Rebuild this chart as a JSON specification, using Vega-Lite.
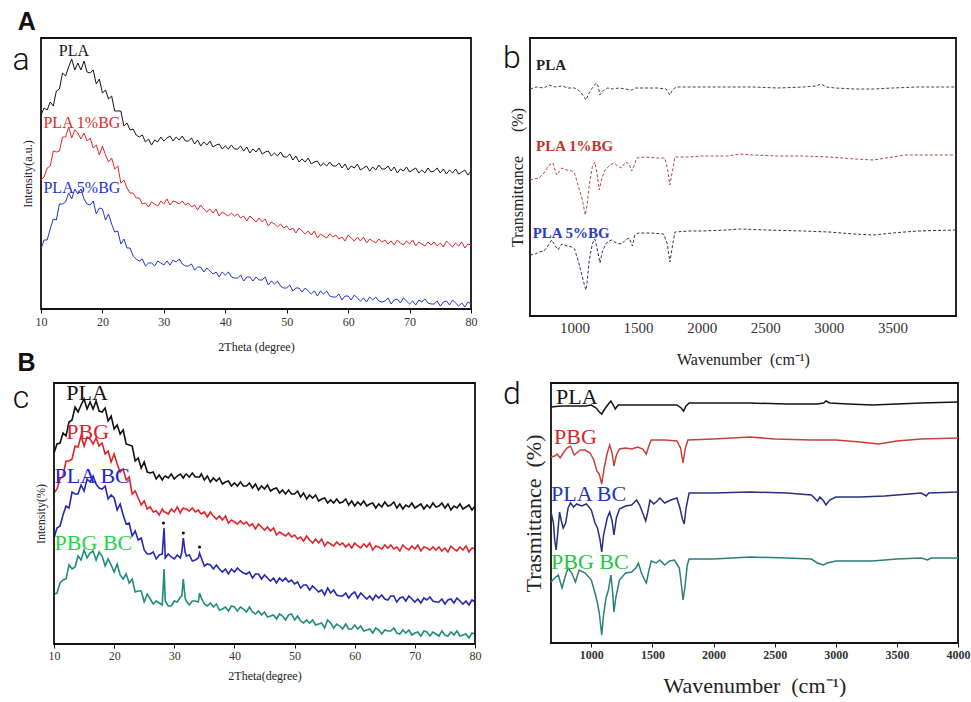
{
"$schema": "https://vega.github.io/schema/vega-lite/v6.json",
"background": "white",
"padding": {"left": 11, "top": 9, "right": 0, "bottom": 0},
"spacing": 0,
"resolve": {"scale": {"color": "independent"}},
"vconcat": [
{"hconcat": [
{"width": 430, "height": 271,
 "encoding": {
  "x": {"field": "x", "type": "quantitative", "scale": {"domain": [10, 80], "nice": false, "zero": false}, "axis": {"values": [10,20,30,40,50,60,70,80], "labelFontSize": 12, "tickSize": 4, "labelPadding": 3, "labelFlush": false, "labelOverlap": false, "title": "2Theta (degree)", "titleFontSize": 12, "titlePadding": 14}},
  "y": {"field": "v", "type": "quantitative", "scale": {"domain": [0, 271], "nice": false, "zero": false}, "axis": {"title": "Intensity(a.u.)", "labels": false, "ticks": false, "titleFontSize": 12, "titlePadding": 7}}
 },
 "layer": [
  {"data": {"values": [
{"x":10,"P":194,"R":129,"B":60},{"x":10.5,"P":201,"R":132,"B":69},{"x":11,"P":199,"R":141,"B":69},{"x":11.5,"P":207,"R":143,"B":80},{"x":12,"P":203,"R":158,"B":90},{"x":12.5,"P":218,"R":157,"B":89},{"x":13,"P":220,"R":158,"B":105},{"x":13.5,"P":236,"R":172,"B":105},{"x":14,"P":233,"R":172,"B":107},{"x":14.5,"P":242,"R":182,"B":116},{"x":15,"P":250,"R":171,"B":110},{"x":15.5,"P":239,"R":179,"B":120},{"x":16,"P":246,"R":176,"B":115},{"x":16.5,"P":239,"R":170,"B":120},{"x":17,"P":248,"R":176,"B":110},{"x":17.5,"P":237,"R":168,"B":105},{"x":18,"P":236,"R":171,"B":104},{"x":18.5,"P":239,"R":161,"B":108},{"x":19,"P":225,"R":164,"B":95},{"x":19.5,"P":230,"R":154,"B":101},{"x":20,"P":216,"R":163,"B":100},{"x":20.5,"P":219,"R":154,"B":89},{"x":21,"P":210,"R":147,"B":95},{"x":21.5,"P":213,"R":151,"B":85},{"x":22,"P":198,"R":140,"B":77},{"x":22.5,"P":198,"R":143,"B":78},{"x":23,"P":198,"R":126,"B":65},{"x":23.5,"P":183,"R":129,"B":70},{"x":24,"P":186,"R":121,"B":61},{"x":24.5,"P":179,"R":116,"B":61},{"x":25,"P":180,"R":116,"B":53},{"x":25.5,"P":174,"R":111,"B":50},{"x":26,"P":172,"R":111,"B":48},{"x":26.5,"P":174,"R":105,"B":50},{"x":27,"P":167,"R":106,"B":43},{"x":27.5,"P":170,"R":102,"B":46},{"x":28,"P":164,"R":107,"B":46},{"x":28.5,"P":169,"R":105,"B":43},{"x":29,"P":167,"R":103,"B":48},{"x":29.5,"P":172,"R":108,"B":46},{"x":30,"P":168,"R":105,"B":44},{"x":30.5,"P":171,"R":110,"B":48},{"x":31,"P":173,"R":104,"B":44},{"x":31.5,"P":168,"R":108,"B":49},{"x":32,"P":172,"R":107,"B":47},{"x":32.5,"P":169,"R":105,"B":50},{"x":33,"P":173,"R":108,"B":45},{"x":33.5,"P":168,"R":104,"B":43},{"x":34,"P":168,"R":106,"B":43},{"x":34.5,"P":171,"R":102,"B":45},{"x":35,"P":165,"R":104,"B":39},{"x":35.5,"P":169,"R":99,"B":42},{"x":36,"P":163,"R":104,"B":42},{"x":36.5,"P":167,"R":100,"B":37},{"x":37,"P":164,"R":97,"B":41},{"x":37.5,"P":168,"R":100,"B":38},{"x":38,"P":162,"R":96,"B":35},{"x":38.5,"P":164,"R":100,"B":37},{"x":39,"P":165,"R":93,"B":32},{"x":39.5,"P":160,"R":97,"B":37},{"x":40,"P":163,"R":95,"B":34},{"x":40.5,"P":160,"R":93,"B":37},{"x":41,"P":164,"R":96,"B":32},{"x":41.5,"P":160,"R":93,"B":31},{"x":42,"P":160,"R":95,"B":31},{"x":42.5,"P":163,"R":91,"B":34},{"x":43,"P":158,"R":93,"B":28},{"x":43.5,"P":162,"R":88,"B":32},{"x":44,"P":156,"R":93,"B":32},{"x":44.5,"P":160,"R":90,"B":28},{"x":45,"P":157,"R":87,"B":32},{"x":45.5,"P":161,"R":91,"B":29},{"x":46,"P":155,"R":87,"B":29},{"x":46.5,"P":157,"R":90,"B":32},{"x":47,"P":158,"R":83,"B":24},{"x":47.5,"P":153,"R":87,"B":28},{"x":48,"P":156,"R":85,"B":25},{"x":48.5,"P":153,"R":82,"B":28},{"x":49,"P":157,"R":85,"B":23},{"x":49.5,"P":152,"R":81,"B":21},{"x":50,"P":152,"R":83,"B":21},{"x":50.5,"P":155,"R":79,"B":24},{"x":51,"P":149,"R":81,"B":18},{"x":51.5,"P":153,"R":76,"B":21},{"x":52,"P":147,"R":81,"B":21},{"x":52.5,"P":150,"R":78,"B":17},{"x":53,"P":147,"R":75,"B":21},{"x":53.5,"P":151,"R":78,"B":18},{"x":54,"P":145,"R":74,"B":15},{"x":54.5,"P":147,"R":78,"B":18},{"x":55,"P":148,"R":71,"B":13},{"x":55.5,"P":143,"R":75,"B":18},{"x":56,"P":146,"R":73,"B":15},{"x":56.5,"P":143,"R":71,"B":18},{"x":57,"P":147,"R":75,"B":13},{"x":57.5,"P":143,"R":72,"B":12},{"x":58,"P":143,"R":74,"B":12},{"x":58.5,"P":146,"R":70,"B":15},{"x":59,"P":141,"R":72,"B":9},{"x":59.5,"P":145,"R":68,"B":13},{"x":60,"P":139,"R":74,"B":13},{"x":60.5,"P":143,"R":71,"B":9},{"x":61,"P":141,"R":68,"B":14},{"x":61.5,"P":145,"R":72,"B":11},{"x":62,"P":139,"R":68,"B":8},{"x":62.5,"P":141,"R":72,"B":11},{"x":63,"P":143,"R":66,"B":7},{"x":63.5,"P":138,"R":70,"B":12},{"x":64,"P":142,"R":68,"B":9},{"x":64.5,"P":139,"R":66,"B":12},{"x":65,"P":144,"R":70,"B":8},{"x":65.5,"P":140,"R":67,"B":7},{"x":66,"P":140,"R":69,"B":8},{"x":66.5,"P":143,"R":65,"B":11},{"x":67,"P":138,"R":68,"B":5},{"x":67.5,"P":142,"R":64,"B":9},{"x":68,"P":136,"R":69,"B":10},{"x":68.5,"P":140,"R":66,"B":6},{"x":69,"P":138,"R":64,"B":11},{"x":69.5,"P":142,"R":68,"B":8},{"x":70,"P":137,"R":65,"B":5},{"x":70.5,"P":139,"R":69,"B":8},{"x":71,"P":141,"R":63,"B":4},{"x":71.5,"P":136,"R":67,"B":9},{"x":72,"P":139,"R":65,"B":7},{"x":72.5,"P":136,"R":63,"B":10},{"x":73,"P":141,"R":67,"B":6},{"x":73.5,"P":137,"R":64,"B":5},{"x":74,"P":138,"R":67,"B":5},{"x":74.5,"P":141,"R":63,"B":8},{"x":75,"P":136,"R":66,"B":3},{"x":75.5,"P":140,"R":62,"B":7},{"x":76,"P":135,"R":68,"B":8},{"x":76.5,"P":139,"R":65,"B":4},{"x":77,"P":136,"R":62,"B":9},{"x":77.5,"P":140,"R":66,"B":6},{"x":78,"P":135,"R":63,"B":3},{"x":78.5,"P":137,"R":67,"B":6},{"x":79,"P":139,"R":61,"B":2},{"x":79.5,"P":134,"R":65,"B":7},{"x":80,"P":138,"R":64,"B":5}
  ]},
   "transform": [{"fold": ["P", "R", "B"], "as": ["s", "v"]}],
   "mark": {"type": "line", "strokeWidth": 1},
   "encoding": {"color": {"field": "s", "type": "nominal", "legend": null, "scale": {"domain": ["P","R","B","Pl","Rl","Bl"], "range": ["#151515","#e3242b","#2233cc","#151515","#e02a2a","#1f2fd6"]}}}
  },
  {"data": {"values": [{"s":"Pl","t":"PLA","x":12.9,"v":258},{"s":"Rl","t":"PLA 1%BG","x":10.4,"v":186},{"s":"Bl","t":"PLA 5%BG","x":10.4,"v":121}]},
   "mark": {"type": "text", "align": "left", "baseline": "middle", "font": "Liberation Serif", "fontSize": 16},
   "encoding": {"text": {"field": "t"}, "color": {"field": "s", "type": "nominal", "legend": null}}
  },
  {"data": {"values": [{"t":"a","x":6.74,"v":249}]},
   "mark": {"type": "text", "align": "center", "baseline": "middle", "font": "Roboto", "fontWeight": 300, "fontSize": 32, "color": "#111"},
   "encoding": {"text": {"field": "t"}}
  },
  {"data": {"values": [{"t":"A","x":7.7,"v":287},{"t":"B","x":7.64,"v":-54}]},
   "mark": {"type": "text", "align": "center", "baseline": "middle", "font": "Liberation Sans", "fontWeight": "bold", "fontSize": 25, "color": "#111"},
   "encoding": {"text": {"field": "t"}}
  }
 ]
},
{"width": 426, "height": 278,
 "encoding": {
  "x": {"field": "x", "type": "quantitative", "scale": {"domain": [650, 4000], "nice": false, "zero": false}, "axis": {"values": [1000,1500,2000,2500,3000,3500], "format": "d", "labelFontSize": 15, "ticks": false, "labelPadding": 4, "labelFlush": false, "labelOverlap": false, "title": "Wavenumber\u2002(cm\u207b\u00b9)", "titleFontSize": 16, "titlePadding": 16}},
  "y": {"field": "v", "type": "quantitative", "scale": {"domain": [0, 278], "nice": false, "zero": false}, "axis": {"title": "Transmittance\u2003\u2002(%)", "labels": false, "ticks": false, "titleFontSize": 16, "titlePadding": 5}}
 },
 "layer": [
  {"data": {"values": [
{"s":"P","x":650,"v":227},{"s":"P","x":700,"v":229},{"s":"P","x":760,"v":228},{"s":"P","x":800,"v":231},{"s":"P","x":850,"v":229},{"s":"P","x":900,"v":230},{"s":"P","x":950,"v":228},{"s":"P","x":1000,"v":228},{"s":"P","x":1040,"v":225},{"s":"P","x":1070,"v":220},{"s":"P","x":1090,"v":216},{"s":"P","x":1110,"v":222},{"s":"P","x":1140,"v":228},{"s":"P","x":1170,"v":233},{"s":"P","x":1185,"v":230},{"s":"P","x":1200,"v":221},{"s":"P","x":1220,"v":225},{"s":"P","x":1260,"v":228},{"s":"P","x":1300,"v":227},{"s":"P","x":1350,"v":228},{"s":"P","x":1400,"v":227},{"s":"P","x":1450,"v":226},{"s":"P","x":1480,"v":228},{"s":"P","x":1550,"v":228},{"s":"P","x":1650,"v":228},{"s":"P","x":1720,"v":227},{"s":"P","x":1750,"v":221},{"s":"P","x":1770,"v":226},{"s":"P","x":1800,"v":229},{"s":"P","x":1900,"v":229},{"s":"P","x":2000,"v":229},{"s":"P","x":2200,"v":229},{"s":"P","x":2400,"v":229},{"s":"P","x":2600,"v":228},{"s":"P","x":2800,"v":229},{"s":"P","x":2900,"v":230},{"s":"P","x":2940,"v":232},{"s":"P","x":2980,"v":229},{"s":"P","x":3050,"v":228},{"s":"P","x":3200,"v":227},{"s":"P","x":3350,"v":227},{"s":"P","x":3500,"v":228},{"s":"P","x":3700,"v":229},{"s":"P","x":4000,"v":229},
{"s":"R","x":650,"v":136},{"s":"R","x":680,"v":137},{"s":"R","x":720,"v":138},{"s":"R","x":760,"v":143},{"s":"R","x":800,"v":151},{"s":"R","x":830,"v":153},{"s":"R","x":860,"v":141},{"s":"R","x":900,"v":148},{"s":"R","x":940,"v":146},{"s":"R","x":980,"v":145},{"s":"R","x":1000,"v":143},{"s":"R","x":1030,"v":130},{"s":"R","x":1060,"v":117},{"s":"R","x":1085,"v":101},{"s":"R","x":1100,"v":112},{"s":"R","x":1115,"v":130},{"s":"R","x":1140,"v":149},{"s":"R","x":1160,"v":154},{"s":"R","x":1180,"v":140},{"s":"R","x":1195,"v":126},{"s":"R","x":1215,"v":138},{"s":"R","x":1240,"v":146},{"s":"R","x":1280,"v":151},{"s":"R","x":1310,"v":153},{"s":"R","x":1340,"v":150},{"s":"R","x":1370,"v":148},{"s":"R","x":1400,"v":154},{"s":"R","x":1430,"v":152},{"s":"R","x":1450,"v":145},{"s":"R","x":1470,"v":151},{"s":"R","x":1490,"v":158},{"s":"R","x":1550,"v":159},{"s":"R","x":1650,"v":158},{"s":"R","x":1710,"v":158},{"s":"R","x":1730,"v":148},{"s":"R","x":1750,"v":131},{"s":"R","x":1770,"v":145},{"s":"R","x":1790,"v":159},{"s":"R","x":1900,"v":159},{"s":"R","x":2000,"v":160},{"s":"R","x":2200,"v":160},{"s":"R","x":2300,"v":162},{"s":"R","x":2400,"v":161},{"s":"R","x":2600,"v":160},{"s":"R","x":2800,"v":160},{"s":"R","x":3000,"v":159},{"s":"R","x":3200,"v":157},{"s":"R","x":3350,"v":156},{"s":"R","x":3450,"v":158},{"s":"R","x":3600,"v":161},{"s":"R","x":3800,"v":161},{"s":"R","x":4000,"v":161},
{"s":"B","x":650,"v":61},{"s":"B","x":690,"v":62},{"s":"B","x":720,"v":64},{"s":"B","x":760,"v":65},{"s":"B","x":790,"v":70},{"s":"B","x":820,"v":76},{"s":"B","x":850,"v":70},{"s":"B","x":870,"v":66},{"s":"B","x":900,"v":72},{"s":"B","x":940,"v":70},{"s":"B","x":980,"v":69},{"s":"B","x":1000,"v":67},{"s":"B","x":1030,"v":55},{"s":"B","x":1060,"v":40},{"s":"B","x":1080,"v":30},{"s":"B","x":1090,"v":26},{"s":"B","x":1100,"v":35},{"s":"B","x":1115,"v":55},{"s":"B","x":1140,"v":72},{"s":"B","x":1160,"v":77},{"s":"B","x":1180,"v":66},{"s":"B","x":1200,"v":53},{"s":"B","x":1220,"v":65},{"s":"B","x":1250,"v":73},{"s":"B","x":1290,"v":76},{"s":"B","x":1330,"v":73},{"s":"B","x":1370,"v":72},{"s":"B","x":1400,"v":76},{"s":"B","x":1430,"v":78},{"s":"B","x":1455,"v":70},{"s":"B","x":1475,"v":81},{"s":"B","x":1500,"v":83},{"s":"B","x":1600,"v":83},{"s":"B","x":1700,"v":82},{"s":"B","x":1730,"v":72},{"s":"B","x":1750,"v":54},{"s":"B","x":1770,"v":70},{"s":"B","x":1790,"v":84},{"s":"B","x":1900,"v":85},{"s":"B","x":2000,"v":85},{"s":"B","x":2200,"v":86},{"s":"B","x":2300,"v":87},{"s":"B","x":2500,"v":86},{"s":"B","x":2800,"v":85},{"s":"B","x":3000,"v":84},{"s":"B","x":3200,"v":82},{"s":"B","x":3350,"v":81},{"s":"B","x":3500,"v":83},{"s":"B","x":3700,"v":85},{"s":"B","x":4000,"v":86}
  ]},
   "mark": {"type": "line", "strokeWidth": 1, "strokeDash": [3, 2]},
   "encoding": {"color": {"field": "s", "type": "nominal", "legend": null, "scale": {"domain": ["P","R","B","Pl","Rl","Bl"], "range": ["#444444","#b54a4a","#333350","#222222","#c8302a","#2a3cc0"]}}}
  },
  {"data": {"values": [{"s":"Pl","t":"PLA","x":697,"v":251},{"s":"Rl","t":"PLA 1%BG","x":697,"v":170},{"s":"Bl","t":"PLA 5%BG","x":671,"v":83}]},
   "mark": {"type": "text", "align": "left", "baseline": "middle", "font": "Liberation Serif", "fontWeight": "bold", "fontSize": 15},
   "encoding": {"text": {"field": "t"}, "color": {"field": "s", "type": "nominal", "legend": null}}
  },
  {"data": {"values": [{"t":"b","x":508,"v":258}]},
   "mark": {"type": "text", "align": "center", "baseline": "middle", "font": "Roboto", "fontWeight": 300, "fontSize": 32, "color": "#111"},
   "encoding": {"text": {"field": "t"}}
  }
 ]
}
], "spacing": 59, "bounds": "flush", "resolve": {"scale": {"color": "independent"}}},
{"hconcat": [
{"width": 434, "height": 261,
 "view": {"stroke": null},
 "encoding": {
  "x": {"field": "x", "type": "quantitative", "scale": {"domain": [10, 80], "range": [13, 434], "nice": false, "zero": false}, "axis": {"values": [10,20,30,40,50,60,70,80], "labelFontSize": 12, "tickSize": 4, "labelPadding": 2, "labelFlush": false, "labelOverlap": false, "title": "2Theta(degree)", "titleFontSize": 12, "titlePadding": 9}},
  "y": {"field": "v", "type": "quantitative", "scale": {"domain": [0, 261], "nice": false, "zero": false}, "axis": {"title": "Intensity(%)", "labels": false, "ticks": false, "offset": -13, "titleFontSize": 12, "titlePadding": 7}}
 },
 "layer": [
  {"data": {"values": [
{"x":10,"P":191,"R":151,"B":106,"G":50},{"x":10.5,"P":200,"R":155,"B":116,"G":51},{"x":11,"P":201,"R":165,"B":118,"G":61},{"x":11.5,"P":211,"R":168,"B":129,"G":64},{"x":12,"P":208,"R":183,"B":138,"G":65},{"x":12.5,"P":222,"R":183,"B":136,"G":79},{"x":13,"P":224,"R":185,"B":152,"G":75},{"x":13.5,"P":237,"R":198,"B":150,"G":77},{"x":14,"P":232,"R":197,"B":150,"G":88},{"x":14.5,"P":239,"R":208,"B":159,"G":84},{"x":15,"P":245,"R":198,"B":153,"G":94},{"x":15.5,"P":235,"R":207,"B":165,"G":86},{"x":16,"P":242,"R":205,"B":162,"G":91},{"x":16.5,"P":235,"R":200,"B":168,"G":93},{"x":17,"P":243,"R":206,"B":160,"G":84},{"x":17.5,"P":233,"R":198,"B":156,"G":92},{"x":18,"P":232,"R":201,"B":155,"G":88},{"x":18.5,"P":236,"R":190,"B":158,"G":78},{"x":19,"P":223,"R":193,"B":145,"G":85},{"x":19.5,"P":228,"R":182,"B":149,"G":79},{"x":20,"P":215,"R":190,"B":146,"G":72},{"x":20.5,"P":219,"R":180,"B":134,"G":80},{"x":21,"P":210,"R":172,"B":140,"G":69},{"x":21.5,"P":214,"R":175,"B":129,"G":65},{"x":22,"P":200,"R":164,"B":120,"G":70},{"x":22.5,"P":199,"R":167,"B":121,"G":61},{"x":23,"P":198,"R":150,"B":108,"G":65},{"x":23.5,"P":183,"R":153,"B":113,"G":52},{"x":24,"P":186,"R":146,"B":104,"G":53},{"x":24.5,"P":176,"R":139,"B":106,"G":53},{"x":25,"P":182,"R":143,"B":94,"G":42},{"x":25.5,"P":172,"R":135,"B":90,"G":50},{"x":26,"P":171,"R":137,"B":90,"G":45},{"x":26.5,"P":172,"R":132,"B":92,"G":40},{"x":27,"P":165,"R":133,"B":85,"G":43},{"x":27.5,"P":169,"R":129,"B":89,"G":41},{"x":28,"P":164,"R":135,"B":90,"G":39},{"x":28.3,"P":167,"R":132,"B":116,"G":75},{"x":28.5,"P":168,"R":132,"B":86,"G":43},{"x":29,"P":166,"R":130,"B":90,"G":38},{"x":29.5,"P":170,"R":135,"B":87,"G":38},{"x":30,"P":165,"R":132,"B":85,"G":43},{"x":30.5,"P":168,"R":137,"B":89,"G":42},{"x":31,"P":170,"R":131,"B":86,"G":47},{"x":31.25,"P":168,"R":134,"B":92,"G":48},{"x":31.5,"P":166,"R":136,"B":106,"G":65},{"x":31.8,"P":169,"R":135,"B":92,"G":46},{"x":32,"P":170,"R":135,"B":88,"G":43},{"x":32.5,"P":167,"R":133,"B":89,"G":39},{"x":33,"P":171,"R":136,"B":83,"G":43},{"x":33.5,"P":167,"R":132,"B":84,"G":43},{"x":34,"P":167,"R":134,"B":86,"G":42},{"x":34.2,"P":167,"R":132,"B":91,"G":51},{"x":34.5,"P":170,"R":130,"B":86,"G":46},{"x":35,"P":164,"R":132,"B":78,"G":40},{"x":35.5,"P":168,"R":127,"B":80,"G":38},{"x":36,"P":162,"R":132,"B":79,"G":41},{"x":36.5,"P":166,"R":128,"B":75,"G":37},{"x":37,"P":163,"R":125,"B":79,"G":40},{"x":37.5,"P":166,"R":128,"B":75,"G":34},{"x":38,"P":160,"R":124,"B":72,"G":35},{"x":38.5,"P":162,"R":128,"B":75,"G":37},{"x":39,"P":163,"R":121,"B":70,"G":33},{"x":39.5,"P":158,"R":124,"B":75,"G":38},{"x":40,"P":161,"R":122,"B":72,"G":37},{"x":40.5,"P":158,"R":120,"B":76,"G":33},{"x":41,"P":162,"R":123,"B":73,"G":37},{"x":41.5,"P":158,"R":120,"B":71,"G":35},{"x":42,"P":158,"R":122,"B":70,"G":32},{"x":42.5,"P":161,"R":118,"B":72,"G":37},{"x":43,"P":156,"R":120,"B":66,"G":32},{"x":43.5,"P":160,"R":115,"B":70,"G":30},{"x":44,"P":154,"R":120,"B":70,"G":33},{"x":44.5,"P":158,"R":117,"B":65,"G":29},{"x":45,"P":155,"R":114,"B":69,"G":32},{"x":45.5,"P":159,"R":117,"B":66,"G":27},{"x":46,"P":153,"R":113,"B":63,"G":28},{"x":46.5,"P":155,"R":116,"B":66,"G":29},{"x":47,"P":156,"R":109,"B":61,"G":25},{"x":47.5,"P":151,"R":112,"B":66,"G":30},{"x":48,"P":154,"R":110,"B":63,"G":28},{"x":48.5,"P":150,"R":108,"B":66,"G":24},{"x":49,"P":154,"R":111,"B":62,"G":29},{"x":49.5,"P":150,"R":107,"B":64,"G":30},{"x":50,"P":150,"R":109,"B":60,"G":24},{"x":50.5,"P":153,"R":105,"B":62,"G":28},{"x":51,"P":147,"R":107,"B":56,"G":23},{"x":51.5,"P":151,"R":103,"B":59,"G":21},{"x":52,"P":145,"R":108,"B":59,"G":24},{"x":52.5,"P":149,"R":104,"B":54,"G":21},{"x":53,"P":146,"R":101,"B":58,"G":24},{"x":53.5,"P":149,"R":105,"B":55,"G":19},{"x":54,"P":143,"R":101,"B":52,"G":20},{"x":54.5,"P":145,"R":105,"B":54,"G":21},{"x":55,"P":146,"R":98,"B":49,"G":16},{"x":55.5,"P":141,"R":102,"B":56,"G":24},{"x":56,"P":144,"R":100,"B":51,"G":21},{"x":56.5,"P":141,"R":98,"B":54,"G":16},{"x":57,"P":145,"R":102,"B":49,"G":20},{"x":57.5,"P":141,"R":99,"B":48,"G":18},{"x":58,"P":142,"R":101,"B":48,"G":15},{"x":58.5,"P":145,"R":97,"B":51,"G":20},{"x":59,"P":139,"R":100,"B":46,"G":15},{"x":59.5,"P":143,"R":96,"B":50,"G":15},{"x":60,"P":138,"R":101,"B":52,"G":19},{"x":60.5,"P":142,"R":98,"B":46,"G":15},{"x":61,"P":139,"R":96,"B":51,"G":18},{"x":61.5,"P":143,"R":100,"B":48,"G":13},{"x":62,"P":138,"R":97,"B":45,"G":14},{"x":62.5,"P":140,"R":101,"B":48,"G":15},{"x":63,"P":141,"R":94,"B":44,"G":11},{"x":63.5,"P":136,"R":98,"B":49,"G":16},{"x":64,"P":140,"R":97,"B":46,"G":14},{"x":64.5,"P":137,"R":95,"B":49,"G":10},{"x":65,"P":142,"R":99,"B":45,"G":14},{"x":65.5,"P":138,"R":96,"B":44,"G":13},{"x":66,"P":139,"R":99,"B":48,"G":13},{"x":66.5,"P":142,"R":95,"B":48,"G":16},{"x":67,"P":136,"R":97,"B":42,"G":11},{"x":67.5,"P":140,"R":93,"B":46,"G":10},{"x":68,"P":135,"R":99,"B":47,"G":14},{"x":68.5,"P":139,"R":96,"B":43,"G":11},{"x":69,"P":137,"R":94,"B":48,"G":14},{"x":69.5,"P":141,"R":98,"B":45,"G":9},{"x":70,"P":136,"R":95,"B":42,"G":11},{"x":70.5,"P":138,"R":99,"B":45,"G":12},{"x":71,"P":140,"R":93,"B":41,"G":8},{"x":71.5,"P":135,"R":97,"B":46,"G":13},{"x":72,"P":139,"R":96,"B":44,"G":12},{"x":72.5,"P":136,"R":94,"B":47,"G":8},{"x":73,"P":141,"R":97,"B":43,"G":12},{"x":73.5,"P":137,"R":94,"B":42,"G":10},{"x":74,"P":138,"R":97,"B":42,"G":8},{"x":74.5,"P":141,"R":93,"B":45,"G":13},{"x":75,"P":136,"R":96,"B":40,"G":9},{"x":75.5,"P":140,"R":92,"B":44,"G":8},{"x":76,"P":134,"R":98,"B":45,"G":12},{"x":76.5,"P":138,"R":95,"B":41,"G":9},{"x":77,"P":136,"R":93,"B":46,"G":13},{"x":77.5,"P":140,"R":97,"B":43,"G":8},{"x":78,"P":135,"R":94,"B":40,"G":9},{"x":78.5,"P":137,"R":98,"B":43,"G":10},{"x":79,"P":139,"R":92,"B":39,"G":6},{"x":79.5,"P":134,"R":96,"B":44,"G":11},{"x":80,"P":138,"R":95,"B":42,"G":10}
  ]},
   "transform": [{"fold": ["P", "R", "B", "G"], "as": ["s", "v"]}],
   "mark": {"type": "line", "strokeWidth": 1.6},
   "encoding": {"color": {"field": "s", "type": "nominal", "legend": null, "scale": {"domain": ["P","R","B","G","Pl","Rl","Bl","Gl"], "range": ["#111111","#e0242a","#2727b5","#1f8c7c","#111111","#e0242a","#2626d0","#2bd14a"]}}}
  },
  {"data": {"values": [{"x":28.2,"v":121},{"x":31.5,"v":111},{"x":34.2,"v":97}]},
   "mark": {"type": "point", "filled": true, "size": 10, "color": "#111", "opacity": 1}
  },
  {"data": {"values": [{"s":"Pl","t":"PLA","x":12.05,"v":251},{"s":"Rl","t":"PBG","x":12.05,"v":212},{"s":"Bl","t":"PLA BC","x":10.1,"v":168},{"s":"Gl","t":"PBG BC","x":10.1,"v":101}]},
   "mark": {"type": "text", "align": "left", "baseline": "middle", "font": "Liberation Serif", "fontSize": 22},
   "encoding": {"text": {"field": "t"}, "color": {"field": "s", "type": "nominal", "legend": null}}
  },
  {"data": {"values": [{"t":"c","x":4.5,"v":246}]},
   "mark": {"type": "text", "align": "center", "baseline": "middle", "font": "Roboto", "fontWeight": 300, "fontSize": 32, "color": "#111"},
   "encoding": {"text": {"field": "t"}}
  },
  {"data": {"values": [{"x":15},{"x":25},{"x":35},{"x":45},{"x":55},{"x":65},{"x":75}]},
   "mark": {"type": "rule", "color": "#111111", "strokeWidth": 1},
   "encoding": {"y": {"datum": 0}, "y2": {"datum": -2.5}}
  },
  {"data": {"values": [{"x":10,"x2":80,"v":0,"v2":261}]},
   "mark": {"type": "rect", "filled": false, "color": "#111111", "strokeWidth": 1.8},
   "encoding": {"x2": {"field": "x2"}, "y2": {"field": "v2"}}
  }
 ]
},
{"width": 407, "height": 260,
 "encoding": {
  "x": {"field": "x", "type": "quantitative", "scale": {"domain": [670, 4000], "nice": false, "zero": false}, "axis": {"values": [1000,1500,2000,2500,3000,3500,4000], "format": "d", "labelFontSize": 12, "labelFontWeight": "bold", "tickSize": 4, "labelPadding": 2, "labelFlush": false, "labelOverlap": false, "title": "Wavenumber\u2002(cm\u207b\u00b9)", "titleFontSize": 22, "titlePadding": 15}},
  "y": {"field": "v", "type": "quantitative", "scale": {"domain": [0, 260], "nice": false, "zero": false}, "axis": {"title": "Trasmittance\u2002(%)", "labels": false, "ticks": false, "titleFontSize": 22, "titlePadding": 6}}
 },
 "layer": [
  {"data": {"values": [
{"s":"P","x":670,"v":236},{"s":"P","x":750,"v":237},{"s":"P","x":850,"v":237},{"s":"P","x":950,"v":237},{"s":"P","x":1000,"v":238},{"s":"P","x":1040,"v":235},{"s":"P","x":1065,"v":231},{"s":"P","x":1085,"v":229},{"s":"P","x":1110,"v":234},{"s":"P","x":1140,"v":239},{"s":"P","x":1160,"v":242},{"s":"P","x":1180,"v":238},{"s":"P","x":1195,"v":234},{"s":"P","x":1220,"v":238},{"s":"P","x":1300,"v":238},{"s":"P","x":1400,"v":238},{"s":"P","x":1500,"v":238},{"s":"P","x":1600,"v":238},{"s":"P","x":1700,"v":238},{"s":"P","x":1735,"v":235},{"s":"P","x":1755,"v":232},{"s":"P","x":1775,"v":237},{"s":"P","x":1800,"v":240},{"s":"P","x":2000,"v":240},{"s":"P","x":2300,"v":240},{"s":"P","x":2600,"v":239},{"s":"P","x":2850,"v":239},{"s":"P","x":2900,"v":240},{"s":"P","x":2920,"v":242},{"s":"P","x":2950,"v":240},{"s":"P","x":3100,"v":239},{"s":"P","x":3300,"v":238},{"s":"P","x":3500,"v":239},{"s":"P","x":3700,"v":240},{"s":"P","x":4000,"v":241},
{"s":"R","x":670,"v":186},{"s":"R","x":700,"v":187},{"s":"R","x":720,"v":189},{"s":"R","x":745,"v":185},{"s":"R","x":770,"v":190},{"s":"R","x":800,"v":195},{"s":"R","x":830,"v":197},{"s":"R","x":860,"v":188},{"s":"R","x":880,"v":190},{"s":"R","x":910,"v":193},{"s":"R","x":950,"v":193},{"s":"R","x":990,"v":190},{"s":"R","x":1020,"v":183},{"s":"R","x":1045,"v":172},{"s":"R","x":1065,"v":169},{"s":"R","x":1085,"v":159},{"s":"R","x":1105,"v":175},{"s":"R","x":1130,"v":190},{"s":"R","x":1150,"v":198},{"s":"R","x":1170,"v":190},{"s":"R","x":1185,"v":177},{"s":"R","x":1205,"v":188},{"s":"R","x":1230,"v":194},{"s":"R","x":1280,"v":195},{"s":"R","x":1330,"v":194},{"s":"R","x":1380,"v":196},{"s":"R","x":1420,"v":194},{"s":"R","x":1450,"v":189},{"s":"R","x":1470,"v":197},{"s":"R","x":1490,"v":203},{"s":"R","x":1600,"v":203},{"s":"R","x":1700,"v":202},{"s":"R","x":1730,"v":195},{"s":"R","x":1750,"v":180},{"s":"R","x":1770,"v":195},{"s":"R","x":1790,"v":203},{"s":"R","x":2000,"v":204},{"s":"R","x":2300,"v":206},{"s":"R","x":2500,"v":204},{"s":"R","x":2800,"v":203},{"s":"R","x":3000,"v":203},{"s":"R","x":3200,"v":201},{"s":"R","x":3350,"v":199},{"s":"R","x":3500,"v":202},{"s":"R","x":3700,"v":204},{"s":"R","x":4000,"v":205},
{"s":"B","x":670,"v":131},{"s":"B","x":690,"v":120},{"s":"B","x":700,"v":103},{"s":"B","x":712,"v":93},{"s":"B","x":725,"v":110},{"s":"B","x":740,"v":131},{"s":"B","x":755,"v":122},{"s":"B","x":770,"v":115},{"s":"B","x":790,"v":120},{"s":"B","x":810,"v":135},{"s":"B","x":830,"v":140},{"s":"B","x":855,"v":136},{"s":"B","x":880,"v":139},{"s":"B","x":920,"v":137},{"s":"B","x":960,"v":139},{"s":"B","x":1000,"v":133},{"s":"B","x":1030,"v":120},{"s":"B","x":1050,"v":115},{"s":"B","x":1070,"v":104},{"s":"B","x":1085,"v":91},{"s":"B","x":1100,"v":108},{"s":"B","x":1130,"v":125},{"s":"B","x":1150,"v":131},{"s":"B","x":1170,"v":122},{"s":"B","x":1185,"v":108},{"s":"B","x":1205,"v":125},{"s":"B","x":1230,"v":134},{"s":"B","x":1280,"v":137},{"s":"B","x":1330,"v":138},{"s":"B","x":1370,"v":143},{"s":"B","x":1395,"v":138},{"s":"B","x":1420,"v":130},{"s":"B","x":1445,"v":122},{"s":"B","x":1460,"v":130},{"s":"B","x":1480,"v":143},{"s":"B","x":1510,"v":139},{"s":"B","x":1540,"v":142},{"s":"B","x":1560,"v":145},{"s":"B","x":1600,"v":140},{"s":"B","x":1650,"v":143},{"s":"B","x":1700,"v":145},{"s":"B","x":1725,"v":135},{"s":"B","x":1745,"v":124},{"s":"B","x":1760,"v":119},{"s":"B","x":1775,"v":135},{"s":"B","x":1800,"v":150},{"s":"B","x":2000,"v":150},{"s":"B","x":2300,"v":151},{"s":"B","x":2600,"v":150},{"s":"B","x":2800,"v":148},{"s":"B","x":2850,"v":142},{"s":"B","x":2870,"v":146},{"s":"B","x":2900,"v":142},{"s":"B","x":2920,"v":138},{"s":"B","x":2950,"v":143},{"s":"B","x":3000,"v":146},{"s":"B","x":3200,"v":146},{"s":"B","x":3400,"v":147},{"s":"B","x":3600,"v":149},{"s":"B","x":3700,"v":150},{"s":"B","x":3740,"v":147},{"s":"B","x":3760,"v":150},{"s":"B","x":4000,"v":151},
{"s":"G","x":670,"v":61},{"s":"G","x":700,"v":65},{"s":"G","x":730,"v":68},{"s":"G","x":760,"v":55},{"s":"G","x":790,"v":68},{"s":"G","x":810,"v":75},{"s":"G","x":840,"v":70},{"s":"G","x":870,"v":61},{"s":"G","x":900,"v":73},{"s":"G","x":950,"v":70},{"s":"G","x":1000,"v":63},{"s":"G","x":1030,"v":50},{"s":"G","x":1050,"v":40},{"s":"G","x":1065,"v":30},{"s":"G","x":1085,"v":8},{"s":"G","x":1100,"v":28},{"s":"G","x":1120,"v":45},{"s":"G","x":1140,"v":53},{"s":"G","x":1160,"v":68},{"s":"G","x":1175,"v":50},{"s":"G","x":1185,"v":31},{"s":"G","x":1200,"v":45},{"s":"G","x":1230,"v":63},{"s":"G","x":1280,"v":70},{"s":"G","x":1330,"v":71},{"s":"G","x":1370,"v":76},{"s":"G","x":1385,"v":80},{"s":"G","x":1410,"v":70},{"s":"G","x":1440,"v":62},{"s":"G","x":1450,"v":60},{"s":"G","x":1470,"v":72},{"s":"G","x":1490,"v":82},{"s":"G","x":1530,"v":80},{"s":"G","x":1560,"v":83},{"s":"G","x":1600,"v":78},{"s":"G","x":1640,"v":82},{"s":"G","x":1680,"v":83},{"s":"G","x":1720,"v":75},{"s":"G","x":1740,"v":55},{"s":"G","x":1750,"v":43},{"s":"G","x":1765,"v":55},{"s":"G","x":1785,"v":78},{"s":"G","x":1800,"v":84},{"s":"G","x":2000,"v":84},{"s":"G","x":2300,"v":86},{"s":"G","x":2600,"v":85},{"s":"G","x":2800,"v":84},{"s":"G","x":2850,"v":80},{"s":"G","x":2900,"v":78},{"s":"G","x":2930,"v":80},{"s":"G","x":3000,"v":82},{"s":"G","x":3300,"v":82},{"s":"G","x":3500,"v":84},{"s":"G","x":3700,"v":85},{"s":"G","x":3750,"v":83},{"s":"G","x":3780,"v":85},{"s":"G","x":4000,"v":85}
  ]},
   "mark": {"type": "line", "strokeWidth": 1.5},
   "encoding": {"color": {"field": "s", "type": "nominal", "legend": null, "scale": {"domain": ["P","R","B","G","Pl","Rl","Bl","Gl"], "range": ["#151515","#c9403b","#27307f","#2e7e79","#151515","#d8262b","#2135c8","#23c544"]}}}
  },
  {"data": {"values": [{"s":"Pl","t":"PLA","x":711,"v":246},{"s":"Rl","t":"PBG","x":695,"v":206},{"s":"Bl","t":"PLA BC","x":670,"v":149},{"s":"Gl","t":"PBG BC","x":670,"v":81}]},
   "mark": {"type": "text", "align": "left", "baseline": "middle", "font": "Liberation Serif", "fontSize": 22},
   "encoding": {"text": {"field": "t"}, "color": {"field": "s", "type": "nominal", "legend": null}}
  },
  {"data": {"values": [{"t":"d","x":351,"v":249}]},
   "mark": {"type": "text", "align": "center", "baseline": "middle", "font": "Roboto", "fontWeight": 300, "fontSize": 32, "color": "#111"},
   "encoding": {"text": {"field": "t"}}
  },
  {"data": {"values": [{"x":750},{"x":1250},{"x":1750},{"x":2250},{"x":2750},{"x":3250},{"x":3750}]},
   "mark": {"type": "rule", "color": "#111111", "strokeWidth": 1},
   "encoding": {"y": {"datum": 0}, "y2": {"datum": -2.5}}
  }
 ]
}
], "spacing": 76, "bounds": "flush", "resolve": {"scale": {"color": "independent"}}}
],
"config": {
 "view": {"stroke": "#111111", "strokeWidth": 1.8},
 "font": "Liberation Serif",
 "axis": {"grid": false, "domain": false, "labelFont": "Liberation Serif", "titleFont": "Liberation Serif", "titleFontWeight": "normal", "labelColor": "#333333", "titleColor": "#222222", "tickColor": "#111111"}
}
}
